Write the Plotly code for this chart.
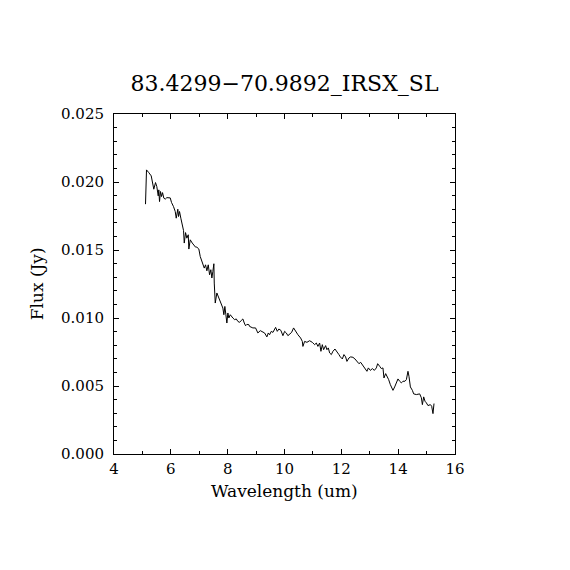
import plotly.graph_objects as go

# Spectrum
wavelength = [
    5.109, 5.144, 5.225, 5.310, 5.401, 5.461, 5.507, 5.556, 5.577, 5.602,
    5.637, 5.673, 5.708, 5.754, 5.803, 5.859, 5.979, 6.025, 6.095, 6.155,
    6.190, 6.246, 6.271, 6.306, 6.352, 6.401, 6.447, 6.472, 6.518, 6.563,
    6.613, 6.634, 6.683, 6.754, 6.810, 6.870, 6.915, 6.986, 7.035, 7.081,
    7.127, 7.176, 7.222, 7.268, 7.317, 7.363, 7.408, 7.444, 7.479, 7.514,
    7.528, 7.563, 7.620, 7.669, 7.715, 7.775, 7.831, 7.866, 7.901, 7.937,
    7.972, 8.007, 8.042, 8.092, 8.137, 8.183, 8.243, 8.303, 8.359, 8.419,
    8.479, 8.535, 8.585, 8.630, 8.676, 8.746, 8.771, 8.887, 8.982, 9.063,
    9.148, 9.239, 9.299, 9.380, 9.430, 9.475, 9.535, 9.592, 9.687, 9.746,
    9.803, 9.873, 9.944, 10.004, 10.063, 10.120, 10.180, 10.250, 10.320, 10.391,
    10.472, 10.567, 10.627, 10.648, 10.708, 10.789, 10.884, 10.979, 11.060, 11.120,
    11.176, 11.236, 11.282, 11.331, 11.377, 11.447, 11.493, 11.542, 11.588, 11.648,
    11.704, 11.775, 11.845, 11.915, 11.965, 12.035, 12.092, 12.151, 12.197, 12.268,
    12.327, 12.408, 12.479, 12.549, 12.620, 12.680, 12.761, 12.831, 12.901, 12.951,
    13.021, 13.092, 13.162, 13.232, 13.278, 13.349, 13.408, 13.465, 13.500, 13.560,
    13.620, 13.665, 13.725, 13.771, 13.817, 13.877, 13.937, 13.993, 14.053, 14.113,
    14.169, 14.239, 14.289, 14.345, 14.380, 14.430, 14.500, 14.546, 14.641, 14.757,
    14.817, 14.852, 14.898, 14.944, 14.993, 15.049, 15.134, 15.180, 15.225, 15.261,
]
flux = [
    0.01837, 0.02089, 0.02069, 0.02045, 0.01947, 0.01996, 0.01966, 0.01898, 0.01942, 0.01856,
    0.01930, 0.01893, 0.01922, 0.01881, 0.01874, 0.01885, 0.01883, 0.01849, 0.01819, 0.01783,
    0.01734, 0.01800, 0.01746, 0.01783, 0.01734, 0.01685, 0.01643, 0.01551, 0.01628, 0.01587,
    0.01612, 0.01507, 0.01575, 0.01551, 0.01538, 0.01521, 0.01521, 0.01507, 0.01452, 0.01428,
    0.01391, 0.01367, 0.01391, 0.01347, 0.01391, 0.01318, 0.01355, 0.01294, 0.01342, 0.01399,
    0.01257, 0.01110, 0.01184, 0.01159, 0.01134, 0.01110, 0.01073, 0.01024, 0.01085, 0.01024,
    0.00963, 0.01037, 0.01000, 0.01024, 0.01007, 0.01000, 0.00988, 0.00993, 0.00975, 0.00968,
    0.00982, 0.00993, 0.00963, 0.00943, 0.00953, 0.00951, 0.00938, 0.00927, 0.00927, 0.00890,
    0.00907, 0.00897, 0.00890, 0.00861, 0.00890, 0.00877, 0.00902, 0.00894, 0.00931, 0.00902,
    0.00919, 0.00909, 0.00870, 0.00902, 0.00890, 0.00870, 0.00885, 0.00894, 0.00927, 0.00902,
    0.00877, 0.00853, 0.00828, 0.00791, 0.00828, 0.00821, 0.00833, 0.00821, 0.00804, 0.00816,
    0.00791, 0.00816, 0.00755, 0.00804, 0.00767, 0.00797, 0.00767, 0.00780, 0.00743, 0.00731,
    0.00755, 0.00772, 0.00755, 0.00731, 0.00714, 0.00699, 0.00731, 0.00714, 0.00681, 0.00706,
    0.00714, 0.00711, 0.00699, 0.00681, 0.00664, 0.00674, 0.00650, 0.00633, 0.00608, 0.00633,
    0.00615, 0.00628, 0.00615, 0.00633, 0.00664, 0.00645, 0.00628, 0.00633, 0.00559, 0.00591,
    0.00571, 0.00547, 0.00510, 0.00493, 0.00468, 0.00493, 0.00518, 0.00552, 0.00535, 0.00523,
    0.00535, 0.00535, 0.00547, 0.00608, 0.00571, 0.00493, 0.00468, 0.00442, 0.00437, 0.00442,
    0.00413, 0.00363, 0.00420, 0.00388, 0.00376, 0.00356, 0.00363, 0.00351, 0.00297, 0.00371,
]

title = "83.4299\u221270.9892_IRSX_SL"
font = "DejaVu Serif"

fig = go.Figure(go.Scatter(
    x=wavelength, y=flux, mode="lines",
    line=dict(color="black", width=1),
    showlegend=False,
))

axis_style = dict(
    showline=True, linecolor="black", linewidth=1, mirror="ticks",
    ticks="inside", ticklen=5, tickwidth=1, tickcolor="black",
    showgrid=False, zeroline=False,
    tickfont=dict(family=font, size=15, color="black"),
)

fig.update_xaxes(
    range=[4, 16], tickvals=[4, 6, 8, 10, 12, 14, 16],
    minor=dict(dtick=1, ticks="inside", ticklen=3, tickcolor="black"),
    ticklabelstandoff=1,
    **axis_style,
)
fig.update_yaxes(
    range=[0, 0.025], tickvals=[0, 0.005, 0.010, 0.015, 0.020, 0.025],
    ticktext=["0.000", "0.005", "0.010", "0.015", "0.020", "0.025"],
    minor=dict(dtick=0.001, ticks="inside", ticklen=3, tickcolor="black"),
    ticklabelstandoff=6,
    **axis_style,
)

# page body adds ~8px offset, so margins are shifted to compensate
fig.update_layout(
    width=570, height=570,
    margin=dict(l=106, r=123, t=106, b=124),
    paper_bgcolor="white", plot_bgcolor="white",
    title=dict(text=title, x=(106 + 170.5) / 570, xanchor="center", y=1 - 75 / 570, yanchor="middle",
               font=dict(family=font, size=22, color="black")),
    annotations=[
        dict(text="Wavelength (um)", xref="paper", yref="paper", x=0.5, y=-0.11,
             xanchor="center", yanchor="middle", showarrow=False,
             font=dict(family=font, size=17, color="black")),
        dict(text="Flux (Jy)", xref="paper", yref="paper", x=-0.225, y=0.5,
             xanchor="center", yanchor="middle", textangle=-90, showarrow=False,
             font=dict(family=font, size=17, color="black")),
    ],
)

fig.write_html("out.html")
